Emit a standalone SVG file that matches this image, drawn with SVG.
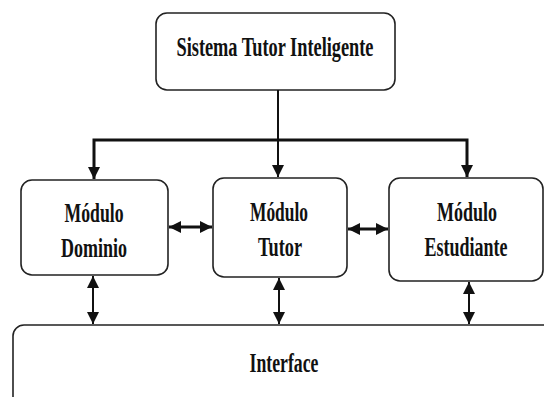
<svg xmlns="http://www.w3.org/2000/svg" width="544" height="397" viewBox="0 0 544 397">
<style>
.box{fill:#fff;stroke:#222;stroke-width:1.6}
text{font-family:'Liberation Serif','DejaVu Serif',serif;font-weight:bold;font-size:28px;fill:#111;text-anchor:middle}
.c{fill:none;stroke:#111;stroke-width:2}
.thick{stroke-width:3}
</style>
<defs>
<marker id="ah" markerUnits="userSpaceOnUse" markerWidth="12" markerHeight="12" refX="10" refY="5" orient="auto-start-reverse" viewBox="0 0 10 10">
<path d="M0,0 L10,5 L0,10 z" fill="#111"/>
</marker>
</defs>
<rect width="544" height="397" fill="#fff"/>
<g id="sti">
<rect class="box" x="156" y="13" width="239" height="77" rx="11"/>
<text x="275" y="56" textLength="197" lengthAdjust="spacingAndGlyphs">Sistema Tutor Inteligente</text>
</g>
<g id="dominio">
<rect class="box" x="21" y="180" width="147" height="95" rx="11"/>
<text x="94" y="222" textLength="59" lengthAdjust="spacingAndGlyphs">Módulo</text>
<text x="94" y="257" textLength="66" lengthAdjust="spacingAndGlyphs">Dominio</text>
</g>
<g id="tutor">
<rect class="box" x="213" y="178" width="134" height="99" rx="11"/>
<text x="279" y="221" textLength="58" lengthAdjust="spacingAndGlyphs">Módulo</text>
<text x="280" y="256" textLength="44" lengthAdjust="spacingAndGlyphs">Tutor</text>
</g>
<g id="estudiante">
<rect class="box" x="389" y="178" width="154" height="103" rx="11"/>
<text x="467" y="221" textLength="60" lengthAdjust="spacingAndGlyphs">Módulo</text>
<text x="466" y="256" textLength="83" lengthAdjust="spacingAndGlyphs">Estudiante</text>
</g>
<g id="interface">
<rect class="box" x="13" y="325" width="570" height="110" rx="11"/>
<text x="284" y="372" textLength="69" lengthAdjust="spacingAndGlyphs">Interface</text>
</g>
<g id="connectors">
<path class="c thick" d="M94,179 V140 H467 V177" marker-start="url(#ah)" marker-end="url(#ah)"/>
<path class="c" d="M278,90 V177" marker-end="url(#ah)"/>
<path class="c thick" d="M169,227 H212" marker-start="url(#ah)" marker-end="url(#ah)"/>
<path class="c thick" d="M348,229 H388" marker-start="url(#ah)" marker-end="url(#ah)"/>
<path class="c" d="M93,276 V324" marker-start="url(#ah)" marker-end="url(#ah)"/>
<path class="c" d="M279,278 V324" marker-start="url(#ah)" marker-end="url(#ah)"/>
<path class="c" d="M469,282 V324" marker-start="url(#ah)" marker-end="url(#ah)"/>
</g>
</svg>
